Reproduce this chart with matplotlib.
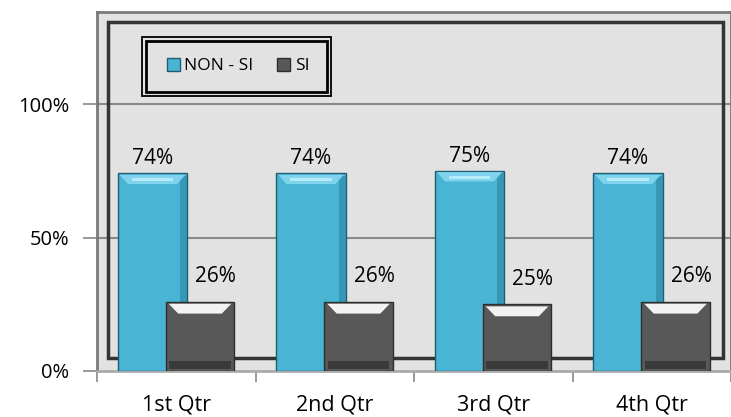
import matplotlib
matplotlib.use("Agg")
import matplotlib.pyplot as plt
from matplotlib.patches import Rectangle, Polygon
import numpy as np

categories = ["1st Qtr", "2nd Qtr", "3rd Qtr", "4th Qtr"]
non_si = [0.74, 0.74, 0.75, 0.74]
si = [0.26, 0.26, 0.25, 0.26]
non_si_labels = ["74%", "74%", "75%", "74%"]
si_labels = ["26%", "26%", "25%", "26%"]
yticks = [0, 0.5, 1.0]
ytick_labels = ["0%", "50%", "100%"]

plt.rcParams['font.family'] = ['Open Sans', 'DejaVu Sans']

W, H = 731, 417
fig = plt.figure(figsize=(W/100, H/100), dpi=100)
ax = fig.add_axes([97/W, 1-371/H, 634/W, (371-12)/H])
ax.set_facecolor('#E2E2E2')

x = np.arange(len(categories))
blue_w, gray_w, off = 0.44, 0.43, 0.15
b1 = ax.bar(x - off, non_si, blue_w, color='#4AB4D4', edgecolor='#1E5D72', linewidth=1.0, zorder=3, label='NON - SI')
b2 = ax.bar(x + off, si, gray_w, color='#585858', edgecolor='#2E2E2E', linewidth=1.0, zorder=4, label='SI')

# bevel highlights
for p in b1:
    bx, bw, bh = p.get_x(), p.get_width(), p.get_height()
    ax.add_patch(Polygon([(bx + bw*0.03, bh - 0.005), (bx + bw*0.97, bh - 0.005),
                          (bx + bw*0.85, bh - 0.04), (bx + bw*0.15, bh - 0.04)],
                         closed=True, color='#7FD3EC', zorder=3.5, lw=0))
    ax.add_patch(Rectangle((bx + bw*0.2, bh - 0.03), bw*0.6, 0.012, color='#B5EBF8', zorder=3.6, lw=0))
    ax.add_patch(Rectangle((bx + bw*0.9, 0), bw*0.1, bh - 0.01, color='#2A86A3', zorder=3.4, lw=0, alpha=0.6))
for p in b2:
    bx, bw, bh = p.get_x(), p.get_width(), p.get_height()
    ax.add_patch(Polygon([(bx + bw*0.04, bh - 0.008), (bx + bw*0.96, bh - 0.008),
                          (bx + bw*0.82, bh - 0.045), (bx + bw*0.18, bh - 0.045)],
                         closed=True, color='#F2F2F2', zorder=4.5, lw=0))
    ax.add_patch(Rectangle((bx + bw*0.05, 0.008), bw*0.9, 0.03, color='#3A3A3A', zorder=4.4, lw=0))

for xi, v, t in zip(x - off, non_si, non_si_labels):
    ax.text(xi, v + 0.034, t, ha='center', va='baseline', fontsize=15, zorder=6)
for xi, v, t in zip(x + off + 0.1, si, si_labels):
    ax.text(xi, v + 0.072, t, ha='center', va='baseline', fontsize=15, zorder=6)

ax.set_xlim(-0.5, 3.48)
ax.set_ylim(0, (371-12)/267)
ax.set_yticks(yticks)
ax.set_yticklabels(ytick_labels, fontsize=14.5)
ax.set_xticks(x)
ax.set_xticklabels(categories, fontsize=15.5)
ax.set_xticks(np.arange(-0.5, 3.6, 1.0), minor=True)
ax.tick_params(axis='x', which='major', length=0, pad=17)
ax.tick_params(axis='x', which='minor', length=8, color='#888888', width=1.2)
ax.tick_params(axis='y', length=10, color='#888888', width=1.2, pad=10)

for yv in yticks[1:]:
    ax.axhline(yv, color='#8A8A8A', lw=1.5, zorder=2)

for s in ax.spines.values():
    s.set_color('#7A7A7A')
    s.set_linewidth(2)
ax.spines['bottom'].set_color('#AAAAAA')

# inner dark frame
ax.add_patch(Rectangle((11/634, 13/359), 615/634, (349-13)/359, transform=ax.transAxes,
                       fill=False, edgecolor='#333333', lw=2.5, zorder=2.5))

# legend with double border
def fx(px):
    return px / W
def fy(py):
    return 1 - py / H

leg = fig.legend(handles=[b1, b2], loc='center', bbox_to_anchor=(fx(238), fy(66)), ncol=2, frameon=False,
                 fontsize=12.5, handlelength=0.75, handleheight=0.75, handletextpad=0.25,
                 columnspacing=1.4)
leg.set_zorder(8)
fig.patches.append(Rectangle((fx(142), fy(96)), fx(331) - fx(142), fy(37) - fy(96),
                             transform=fig.transFigure, fill=True, facecolor='#E2E2E2',
                             edgecolor='black', lw=1.3, zorder=6))
fig.patches.append(Rectangle((fx(146), fy(92)), fx(327) - fx(146), fy(41) - fy(92),
                             transform=fig.transFigure, fill=False,
                             edgecolor='black', lw=2.0, zorder=7))

fig.savefig('out.png', dpi=100)
